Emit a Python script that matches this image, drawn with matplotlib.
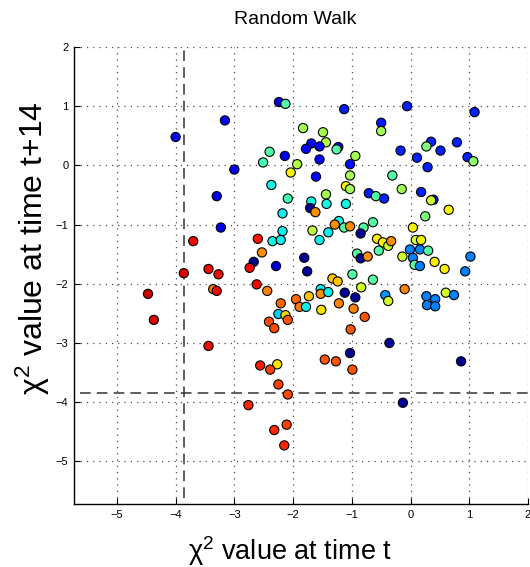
import matplotlib
matplotlib.use("Agg")
import matplotlib.pyplot as plt
import numpy as np

plt.rcParams['font.family'] = ['Liberation Sans', 'DejaVu Sans']
plt.rcParams['mathtext.fontset'] = 'custom'
plt.rcParams['mathtext.rm'] = 'Liberation Sans'
plt.rcParams['mathtext.it'] = 'Liberation Sans'

# ---- data ----
x_t = [-4.00, -3.16, -3.00, -3.30, -3.23, -2.24, -2.13, -1.83, -1.49, -1.44,
       -1.69, -1.55, -1.78, -2.40, -2.51, -2.14, -1.55, -1.93, -2.04, -1.61,
       -2.37, -2.09, -1.44, -1.69, -1.43, -1.71, -1.62, -2.18, -2.18, -1.67,
       -1.55, -1.40, -2.35, -2.21, -1.13, -0.06, 1.09, -0.50, -0.50, -1.23,
       -1.26, -0.94, -1.03, -0.17, 0.35, 0.27, 0.51, 0.79, 0.11, 0.29,
       0.97, 1.07, -1.03, -1.10, -1.03, -0.31, -0.15, -0.71, -0.59, -0.45,
       0.18, 0.39, 0.35, 0.65, 0.25, -1.10, -1.22, -1.29, -1.13, -1.03,
       -0.80, -0.64, 0.04, -0.85, -0.57, -0.47, -0.38, -0.33, 0.09, 0.18,
       -0.91, -0.85, -0.73, -0.54, -0.14, -0.01, 0.16, 0.30, 0.04, 0.07,
       0.16, 0.41, 0.58, 1.02, 0.93, -3.70, -2.60, -2.53, -2.67, -2.74,
       -2.29, -1.81, -1.76, -3.44, -3.27, -3.86, -4.47, -4.37, -2.62, -2.44,
       -3.36, -3.30, -2.21, -1.95, -1.89, -1.78, -1.73, -1.53, -1.53, -1.40,
       -1.52, -2.25, -2.13, -2.09, -2.41, -2.32, -3.44, -1.33, -1.24, -0.99,
       -0.64, -0.84, -1.12, -0.94, -1.22, -0.97, -0.43, -0.38, -0.10, 0.27,
       0.42, 0.28, 0.42, 0.60, 0.74, -0.78, -1.02, -0.36, -1.03, -1.27,
       -1.46, -0.99, 0.86, -2.56, -2.27, -2.39, -2.25, -2.09, -2.76, -2.11,
       -2.32, -2.15, -0.13]
y_t14 = [0.48, 0.76, -0.07, -0.52, -1.05, 1.07, 1.04, 0.63, 0.56, 0.39,
         0.37, 0.32, 0.28, 0.23, 0.05, 0.16, 0.10, 0.02, -0.12, -0.19,
         -0.33, -0.56, -0.49, -0.61, -0.65, -0.72, -0.79, -0.81, -1.11, -1.10,
         -1.26, -1.13, -1.28, -1.26, 0.95, 1.00, 0.90, 0.72, 0.58, 0.31,
         0.27, 0.16, 0.02, 0.25, 0.40, 0.32, 0.25, 0.39, 0.13, -0.03,
         0.14, 0.07, -0.17, -0.35, -0.40, -0.17, -0.40, -0.47, -0.52, -0.56,
         -0.45, -0.58, -0.59, -0.75, -0.86, -0.65, -0.94, -1.00, -1.05, -1.03,
         -1.05, -0.96, -1.05, -1.15, -1.24, -1.30, -1.36, -1.28, -1.26, -1.26,
         -1.49, -1.57, -1.54, -1.44, -1.54, -1.42, -1.42, -1.44, -1.56, -1.68,
         -1.70, -1.63, -1.75, -1.54, -1.79, -1.28, -1.24, -1.47, -1.63, -1.73,
         -1.70, -1.56, -1.79, -1.75, -1.84, -1.82, -2.17, -2.61, -2.01, -2.12,
         -2.09, -2.12, -2.33, -2.26, -2.39, -2.39, -2.21, -2.09, -2.17, -2.14,
         -2.44, -2.51, -2.53, -2.61, -2.64, -2.75, -3.05, -1.91, -1.96, -1.84,
         -1.93, -2.06, -2.15, -2.23, -2.33, -2.42, -2.19, -2.29, -2.09, -2.21,
         -2.26, -2.36, -2.38, -2.15, -2.19, -2.56, -2.77, -3.00, -3.17, -3.31,
         -3.28, -3.45, -3.31, -3.38, -3.36, -3.45, -3.70, -3.87, -4.05, -4.38,
         -4.47, -4.73, -4.01]
time_index = [0.10, 0.10, 0.10, 0.10, 0.10, 0.08, 0.45, 0.55, 0.55, 0.57,
              0.13, 0.13, 0.13, 0.45, 0.43, 0.10, 0.13, 0.57, 0.65, 0.13,
              0.37, 0.43, 0.55, 0.37, 0.37, 0.02, 0.76, 0.36, 0.36, 0.58,
              0.36, 0.36, 0.37, 0.36, 0.15, 0.16, 0.16, 0.15, 0.55, 0.14,
              0.45, 0.55, 0.14, 0.16, 0.16, 0.50, 0.16, 0.16, 0.16, 0.16,
              0.16, 0.52, 0.55, 0.65, 0.55, 0.45, 0.55, 0.15, 0.45, 0.16,
              0.16, 0.16, 0.60, 0.65, 0.50, 0.37, 0.37, 0.76, 0.45, 0.76,
              0.45, 0.45, 0.65, 0.02, 0.66, 0.66, 0.60, 0.76, 0.60, 0.65,
              0.45, 0.02, 0.76, 0.45, 0.60, 0.25, 0.25, 0.45, 0.25, 0.45,
              0.25, 0.66, 0.66, 0.25, 0.25, 0.90, 0.89, 0.76, 0.02, 0.90,
              0.08, 0.02, 0.02, 0.90, 0.90, 0.92, 0.93, 0.92, 0.90, 0.77,
              0.78, 0.90, 0.80, 0.80, 0.78, 0.36, 0.70, 0.36, 0.76, 0.36,
              0.67, 0.33, 0.68, 0.82, 0.83, 0.83, 0.90, 0.70, 0.70, 0.45,
              0.45, 0.60, 0.02, 0.02, 0.77, 0.77, 0.27, 0.60, 0.77, 0.25,
              0.25, 0.25, 0.25, 0.60, 0.25, 0.82, 0.82, 0.02, 0.02, 0.82,
              0.82, 0.82, 0.02, 0.88, 0.67, 0.84, 0.84, 0.83, 0.87, 0.84,
              0.87, 0.87, 0.02]

threshold = -3.85
x_ticks = [-5, -4, -3, -2, -1, 0, 1, 2]
y_ticks = [-5, -4, -3, -2, -1, 0, 1, 2]

# ---- figure ----
W, H = 530, 567
fig = plt.figure(figsize=(W / 100, H / 100), dpi=100)
ax = fig.add_axes([74 / W, 63 / H, 454 / W, 457 / H])

ax.set_xlim(-5.73, 2.0)
ax.set_ylim(-5.72, 2.0)
ax.set_xticks(x_ticks)
ax.set_yticks(y_ticks)
ax.grid(True, linestyle=(0, (1, 4)), color='0.3', linewidth=0.9)
ax.set_axisbelow(True)
for s in ['top', 'right']:
    ax.spines[s].set_visible(False)
for s in ['left', 'bottom']:
    ax.spines[s].set_linewidth(1.0)
ax.tick_params(direction='in', length=4, width=0.8, labelsize=8, pad=4)

ax.plot([threshold, threshold], [-5.62, 2.0], color='0.2', linewidth=1.1,
        dashes=(7, 4), zorder=2)
ax.plot([-5.62, 2.1], [threshold, threshold], color='0.2', linewidth=1.1,
        dashes=(7, 4), zorder=2, clip_on=False)

ax.scatter(x_t, y_t14, c=time_index, cmap='jet', vmin=0, vmax=1, s=44,
           edgecolors='black', linewidths=0.8, zorder=3)

fig.text(295 / W, 1 - 19 / H, 'Random Walk', fontsize=14, ha='center', va='center')
fig.text(290 / W, 7 / H, 'χ$^{2}$ value at time t', fontsize=19.5, ha='center',
         va='baseline')
fig.text(33 / W, 1 - 248 / H, 'χ$^{2}$ value at time t+14', fontsize=23,
         ha='center', va='center', rotation=90)

fig.savefig('out.png', dpi=100)
